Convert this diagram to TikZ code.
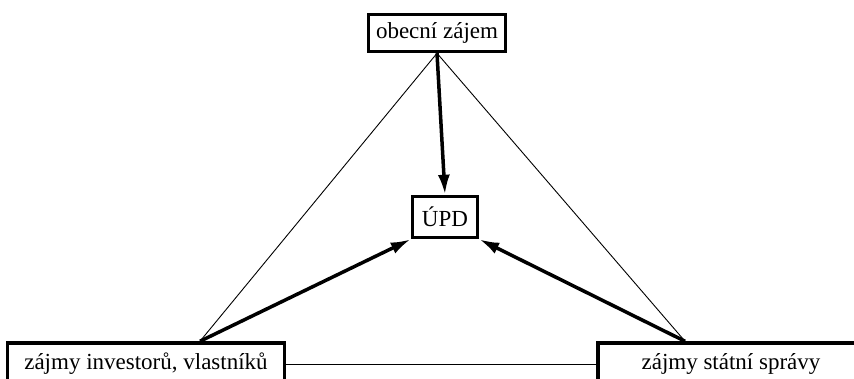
\documentclass[tikz,border=0pt]{standalone}
\usepackage{fontspec}
\setmainfont{Liberation Serif}
\usetikzlibrary{arrows.meta}

\begin{document}
\begin{tikzpicture}[x=1pt,y=-1pt,
  box/.style={draw, line width=3.5pt, inner sep=0pt, font=\fontsize{23}{27}\selectfont},
  thin/.style={line width=0.9pt},
  thick/.style={line width=3.5pt, -{Latex[length=20pt,width=12pt]}}]
\useasboundingbox (0,0) rectangle (854,378);
% Boxes
\node[box, minimum width=137pt, minimum height=37pt] (zajem) at (437,33) {obecní zájem};
\node[box, minimum width=65pt, minimum height=41pt] (upd) at (445,217) {ÚPD};
\node[box, minimum width=277pt, minimum height=42pt] (inv) at (146,364) {zájmy investorů, vlastníků};
\node[box, minimum width=266pt, minimum height=42pt] (sta) at (731,364) {zájmy státní správy};
% Thin triangle
\draw[thin] (zajem.south) -- ([xshift=54pt]inv.north);
\draw[thin] (zajem.south) -- ([xshift=-46pt]sta.north);
\draw[thin] (inv.east) -- (sta.west);
% Thick arrows into the plan
\draw[thick] (zajem.south) -- (upd.north);
\draw[thick] ([xshift=54pt]inv.north) -- (upd.south west);
\draw[thick] ([xshift=-46pt]sta.north) -- (upd.south east);
\end{tikzpicture}
\end{document}
